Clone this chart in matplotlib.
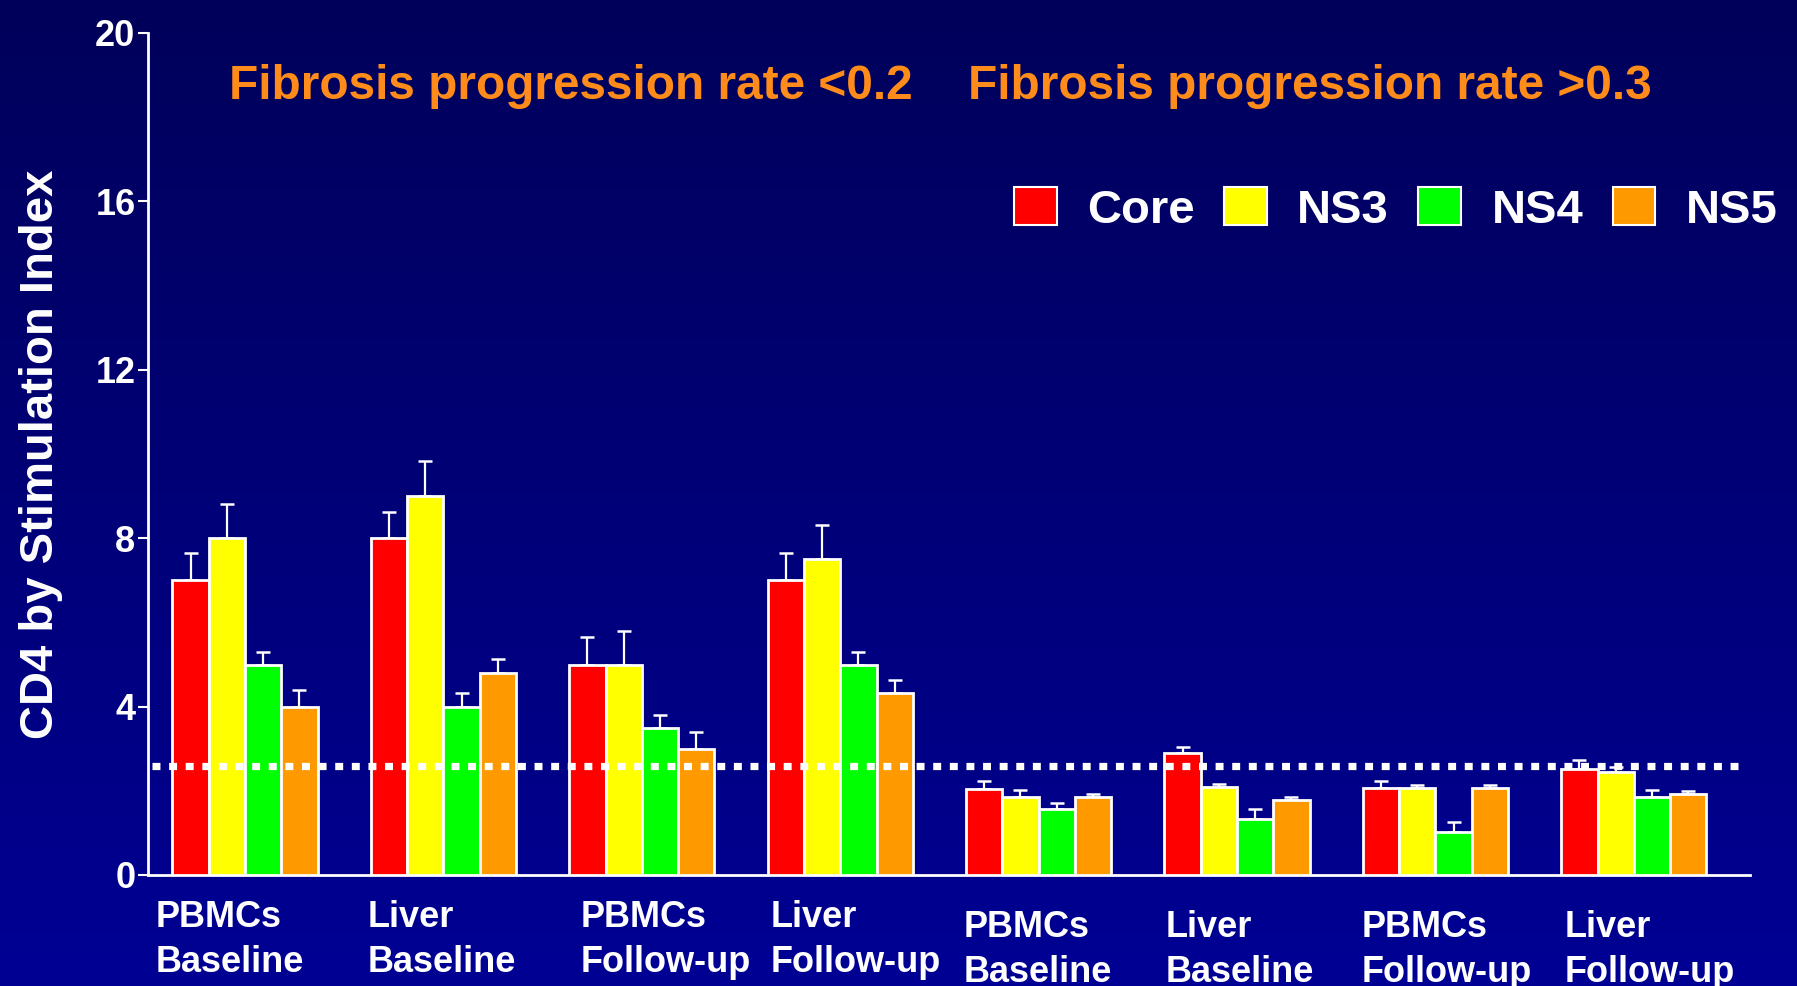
import numpy as np
import matplotlib
matplotlib.use("Agg")
import matplotlib.pyplot as plt
from matplotlib.patches import Patch
from matplotlib.colors import LinearSegmentedColormap

# ---------------- data ----------------
groups_line1 = ["PBMCs", "Liver", "PBMCs", "Liver", "PBMCs", "Liver", "PBMCs", "Liver"]
groups_line2 = ["Baseline", "Baseline", "Follow-up", "Follow-up",
                "Baseline", "Baseline", "Follow-up", "Follow-up"]
series_names = ["Core", "NS3", "NS4", "NS5"]

core = [7.0, 8.0, 5.0, 7.0, 2.05, 2.9, 2.07, 2.52]
core_err = [0.65, 0.63, 0.65, 0.65, 0.18, 0.14, 0.16, 0.21]
ns3 = [8.0, 9.0, 5.0, 7.5, 1.85, 2.09, 2.07, 2.45]
ns3_err = [0.81, 0.83, 0.8, 0.81, 0.17, 0.07, 0.07, 0.12]
ns4 = [5.0, 4.0, 3.5, 5.0, 1.57, 1.33, 1.02, 1.85]
ns4_err = [0.3, 0.32, 0.3, 0.3, 0.14, 0.24, 0.24, 0.17]
ns5 = [4.0, 4.8, 3.0, 4.32, 1.85, 1.78, 2.07, 1.92]
ns5_err = [0.39, 0.33, 0.4, 0.31, 0.07, 0.07, 0.07, 0.08]

threshold = 2.6
y_ticks = [0, 4, 8, 12, 16, 20]
title_low = "Fibrosis progression rate <0.2"
title_high = "Fibrosis progression rate >0.3"
y_label = "CD4 by Stimulation Index"

# ---------------- style ----------------
colors = ["#FF0000", "#FFFF00", "#00FF00", "#FF9900"]
title_color = "#FF8C1A"
FONT = ["Liberation Sans", "DejaVu Sans"]
plt.rcParams["font.family"] = FONT
plt.rcParams["font.weight"] = "bold"

W, H = 1797, 986
fig = plt.figure(figsize=(W / 100, H / 100), dpi=100)

# background gradient
bg = fig.add_axes([0, 0, 1, 1], zorder=-10)
cmap = LinearSegmentedColormap.from_list("bg", ["#00005A", "#000094"])
grad = np.linspace(0, 1, 256).reshape(-1, 1)
bg.imshow(grad, aspect="auto", cmap=cmap, extent=[0, 1, 0, 1], origin="upper")
bg.axis("off")

# main axes
ax_l, ax_r, ax_top, ax_bot = 148, 1750, 33, 875
ax = fig.add_axes([ax_l / W, 1 - ax_bot / H, (ax_r - ax_l) / W, (ax_bot - ax_top) / H])
ax.set_facecolor("none")

spacing_px = 198.4
first_center = 245
x = np.arange(len(core))
ax.set_xlim((ax_l - first_center) / spacing_px, (ax_r - first_center) / spacing_px)
ax.set_ylim(0, 20)

bw = 36.3 / spacing_px
all_vals = [core, ns3, ns4, ns5]
all_errs = [core_err, ns3_err, ns4_err, ns5_err]
for i, (vals, errs, c) in enumerate(zip(all_vals, all_errs, colors)):
    xpos = x + (i - 1.5) * bw
    ax.bar(xpos, vals, width=bw, color=c, edgecolor="white", linewidth=2.0, zorder=3)
    ax.errorbar(xpos, vals, yerr=[np.zeros(len(errs)), errs], fmt="none",
                ecolor="white", elinewidth=1.6, capsize=4.8, capthick=1.8, zorder=2)

# threshold dotted line
ax.axhline(threshold, xmin=(152 - ax_l) / (ax_r - ax_l), xmax=(1738 - ax_l) / (ax_r - ax_l),
           color="white", linewidth=5.2, linestyle=(0, (1.1, 1.2)), dash_capstyle="butt", zorder=4)

# spines / ticks
for s in ["top", "right"]:
    ax.spines[s].set_visible(False)
for s in ["left", "bottom"]:
    ax.spines[s].set_color("white")
    ax.spines[s].set_linewidth(2.0)
ax.set_yticks(y_ticks)
ax.set_yticklabels([str(t) for t in y_ticks], fontsize=26, fontweight="bold", color="white")
ax.tick_params(axis="y", colors="white", length=7, width=1.5, pad=2)
ax.set_xticks([])

# x labels (two lines)
ppu = (ax_bot - ax_top) / 20.0
label_shift = [-0.45, -0.38, -0.31, -0.35, -0.38, -0.36, -0.37, -0.35]
for gi in range(len(core)):
    lower = gi >= 4
    b1 = 937 if lower else 927
    b2 = 982 if lower else 972
    xl = gi + label_shift[gi]
    ax.text(xl, (ax_bot - b1) / ppu, groups_line1[gi], ha="left", va="baseline",
            fontsize=26, fontweight="bold", color="white", clip_on=False)
    ax.text(xl, (ax_bot - b2) / ppu, groups_line2[gi], ha="left", va="baseline",
            fontsize=26, fontweight="bold", color="white", clip_on=False)

# y label
fig.text(41 / W, 1 - 454 / H, y_label, rotation=90, ha="center", va="center",
         fontsize=34, fontweight="bold", color="white")

# titles
fig.text(229 / W, 1 - 99 / H, title_low, ha="left", va="baseline",
         fontsize=34.4, fontweight="bold", color=title_color)
fig.text(968 / W, 1 - 99 / H, title_high, ha="left", va="baseline",
         fontsize=34.4, fontweight="bold", color=title_color)

# legend
handles = [Patch(facecolor=c, edgecolor="white", linewidth=1.5) for c in colors]
fig.legend(handles, series_names, loc="center left", bbox_to_anchor=(1014 / W, 1 - 210 / H),
           ncol=4, frameon=False, borderpad=0, borderaxespad=0,
           handlelength=0.9, handleheight=0.85, handletextpad=0.65, columnspacing=0.62,
           prop={"family": FONT, "weight": "bold", "size": 34}, labelcolor="white")

fig.savefig("out.png", dpi=100)
